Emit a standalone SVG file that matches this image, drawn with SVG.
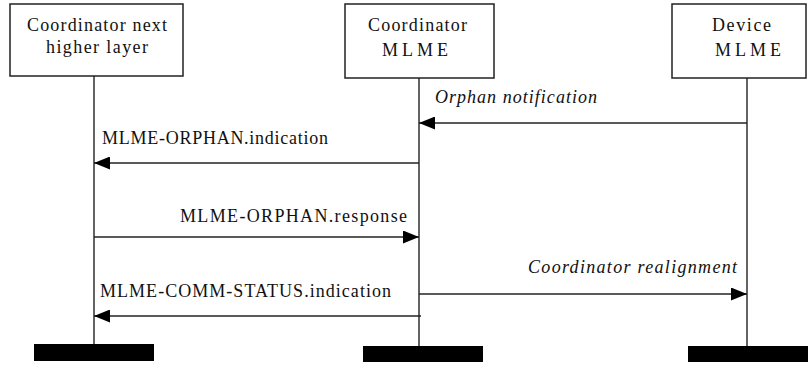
<svg xmlns="http://www.w3.org/2000/svg" width="808" height="365" viewBox="0 0 808 365">
<style>
.box{fill:#fff;stroke:#222;stroke-width:1.5}
.life{stroke:#222;stroke-width:1.4;fill:none}
.bar{fill:#000}
.t{font-size:18px;fill:#111}
.i{font-style:italic}
.msg{stroke:#222;stroke-width:1.4;fill:none;marker-end:url(#ah)}
</style>
<defs>
<marker id="ah" markerUnits="userSpaceOnUse" markerWidth="17" markerHeight="13" refX="16" refY="6.5" orient="auto">
<path d="M0,0 L16,6.5 L0,13 Z" fill="#000"/>
</marker>
</defs>
<rect width="808" height="365" fill="#fff"/>
<g font-family="Liberation Serif, serif">
<g id="node-coord-nhl">
<rect class="box" x="10" y="4" width="173" height="72"/>
<text class="t" x="27" y="31" textLength="140" lengthAdjust="spacing">Coordinator next</text>
<text class="t" x="46" y="53" textLength="102" lengthAdjust="spacing">higher layer</text>
<line class="life" x1="94" y1="76" x2="94" y2="344"/>
<rect class="bar" x="34" y="344" width="120" height="17"/>
</g>
<g id="node-coord-mlme">
<rect class="box" x="345" y="4" width="149" height="74"/>
<text class="t" x="368" y="31" textLength="99" lengthAdjust="spacing">Coordinator</text>
<text class="t" x="382" y="56" textLength="66" lengthAdjust="spacing">MLME</text>
<line class="life" x1="419" y1="78" x2="419" y2="346"/>
<rect class="bar" x="363" y="346" width="120" height="16"/>
</g>
<g id="node-device-mlme">
<rect class="box" x="672" y="4" width="134" height="74"/>
<text class="t" x="712" y="31" textLength="59" lengthAdjust="spacing">Device</text>
<text class="t" x="715" y="56" textLength="66" lengthAdjust="spacing">MLME</text>
<line class="life" x1="747" y1="78" x2="747" y2="346"/>
<rect class="bar" x="688" y="346" width="120" height="16"/>
</g>
<g id="connectors">
<line class="msg" x1="747" y1="123" x2="419" y2="123"/>
<text class="t i" x="435" y="103" textLength="162" lengthAdjust="spacing">Orphan notification</text>
<line class="msg" x1="419" y1="163" x2="94" y2="163"/>
<text class="t" x="102" y="144" textLength="226" lengthAdjust="spacing">MLME-ORPHAN.indication</text>
<line class="msg" x1="94" y1="237" x2="419" y2="237"/>
<text class="t" x="180" y="222" textLength="227" lengthAdjust="spacing">MLME-ORPHAN.response</text>
<line class="msg" x1="419" y1="294" x2="747" y2="294"/>
<text class="t i" x="528" y="273" textLength="209" lengthAdjust="spacing">Coordinator realignment</text>
<line class="msg" x1="421" y1="316" x2="94" y2="316"/>
<text class="t" x="100" y="297" textLength="291" lengthAdjust="spacing">MLME-COMM-STATUS.indication</text>
</g>
</g>
</svg>
